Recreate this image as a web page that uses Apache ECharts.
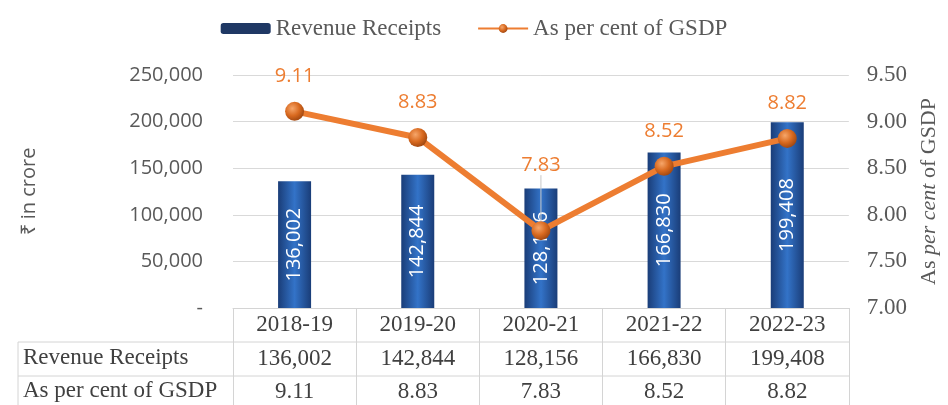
<!DOCTYPE html>
<html>
<head>
<meta charset="utf-8">
<script src="https://cdn.jsdelivr.net/npm/echarts@6/dist/echarts.min.js"></script>
<style>
  html, body { margin: 0; padding: 0; background: #fff; }
  #chart { width: 948px; height: 405px; }
</style>
</head>
<body>
<div id="chart"></div>
<script>
const years = ["2018-19", "2019-20", "2020-21", "2021-22", "2022-23"];
const revenueReceipts = [136002, 142844, 128156, 166830, 199408];
const gsdpShare = [9.11, 8.83, 7.83, 8.52, 8.82];

const SANS = "'Open Sans', sans-serif";
const SERIF = "'Liberation Serif', 'Times New Roman', serif";
const GRID = { left: 233, right: 98, top: 75, bottom: 97 };
const TABLE_LINE = "#d4d4d4";

const fmtInt = (v) => v.toLocaleString("en-US");
const fmt2 = (v) => v.toFixed(2);

const chart = echarts.init(document.getElementById("chart"));

const barColor = new echarts.graphic.LinearGradient(0, 0, 1, 0, [
  { offset: 0, color: "#1a3d78" },
  { offset: 0.5, color: "#3373c8" },
  { offset: 1, color: "#1a3d78" },
]);

const dotColor = new echarts.graphic.RadialGradient(0.38, 0.35, 0.7, [
  { offset: 0, color: "#f6a66a" },
  { offset: 0.55, color: "#d8691f" },
  { offset: 1, color: "#9c4510" },
]);

// the 2020-21 label sits higher with a leader line
const lineData = gsdpShare.map((v, i) =>
  i === 2 ? { value: v, labelLine: { show: true } } : v
);

const tableAxis = (values, margin) => ({
  type: "category",
  data: values,
  gridIndex: 0,
  position: "bottom",
  axisLine: { show: false },
  axisTick: { show: false },
  axisLabel: {
    interval: 0,
    margin: margin,
    verticalAlign: "middle",
    fontFamily: SERIF,
    fontSize: 23,
    color: "#404040",
  },
});

const h = 405;
const tableTop = h - GRID.bottom;

const option = {
  animation: false,
  backgroundColor: "#fff",
  legend: {
    top: 12,
    left: "center",
    itemWidth: 50,
    itemHeight: 11,
    itemGap: 36,
    textStyle: { fontFamily: SERIF, fontSize: 23, color: "#595959" },
    data: [
      { name: "Revenue Receipts", itemStyle: { color: "#1f3864" } },
      { name: "As per cent of GSDP" },
    ],
  },
  grid: GRID,
  xAxis: [
    {
      type: "category",
      data: years,
      axisLine: { show: true, lineStyle: { color: TABLE_LINE } },
      axisTick: { show: true, length: GRID.bottom, lineStyle: { color: TABLE_LINE } },
      axisLabel: {
        interval: 0,
        margin: 17,
        verticalAlign: "middle",
        fontFamily: SERIF,
        fontSize: 23,
        color: "#404040",
      },
    },
    tableAxis(revenueReceipts.map(fmtInt), 51),
    tableAxis(gsdpShare.map(fmt2), 84),
  ],
  yAxis: [
    {
      type: "value",
      min: 0,
      max: 250000,
      interval: 50000,
      name: "₹ in crore",
      nameLocation: "middle",
      nameGap: 194,
      nameTextStyle: { fontFamily: SANS, fontSize: 20, color: "#595959" },
      axisLine: { show: false },
      axisTick: { show: false },
      axisLabel: {
        margin: 30,
        fontFamily: SANS,
        fontSize: 20,
        color: "#595959",
        formatter: (v) => (v === 0 ? "-" : fmtInt(v)),
      },
      splitLine: { lineStyle: { color: "#d9d9d9" } },
    },
    {
      type: "value",
      min: 7,
      max: 9.5,
      interval: 0.5,
      position: "right",
      name: "{a|As }{b|per cent}{a| of GSDP}",
      nameLocation: "middle",
      nameGap: 68,
      nameTextStyle: {
        rich: {
          a: { fontFamily: SERIF, fontSize: 22, color: "#595959" },
          b: { fontFamily: SERIF, fontSize: 22, color: "#595959", fontStyle: "italic" },
        },
      },
      axisLine: { show: false },
      axisTick: { show: false },
      axisLabel: {
        margin: 18,
        fontFamily: SERIF,
        fontSize: 23,
        color: "#595959",
        formatter: fmt2,
      },
      splitLine: { show: false },
    },
  ],
  series: [
    {
      name: "Revenue Receipts",
      type: "bar",
      xAxisIndex: 0,
      yAxisIndex: 0,
      barWidth: 33,
      data: revenueReceipts,
      itemStyle: { color: barColor },
      label: {
        show: true,
        position: "inside",
        rotate: 90,
        fontFamily: SANS,
        fontSize: 20,
        color: "#ffffff",
        formatter: (p) => fmtInt(p.value),
      },
    },
    {
      name: "As per cent of GSDP",
      type: "line",
      xAxisIndex: 0,
      yAxisIndex: 1,
      data: lineData,
      symbol: "circle",
      symbolSize: 19,
      lineStyle: { color: "#ed7d31", width: 6 },
      itemStyle: { color: dotColor },
      label: {
        show: true,
        position: "top",
        distance: 16,
        fontFamily: SANS,
        fontSize: 20,
        color: "#ed7d31",
        formatter: (p) => fmt2(p.value),
      },
      labelLine: { show: false, lineStyle: { color: "#c8c8c8", width: 1 } },
      labelLayout: (p) => (p.dataIndex === 2 ? { dy: -30 } : {}),
      z: 5,
    },
  ],
  graphic: [
    // table row borders and row headers
    {
      type: "line",
      shape: { x1: 18, y1: tableTop + 34, x2: 948 - GRID.right, y2: tableTop + 34 },
      style: { stroke: TABLE_LINE, lineWidth: 1 },
    },
    {
      type: "line",
      shape: { x1: 18, y1: tableTop + 68, x2: 948 - GRID.right, y2: tableTop + 68 },
      style: { stroke: TABLE_LINE, lineWidth: 1 },
    },
    {
      type: "line",
      shape: { x1: 18, y1: tableTop + 34, x2: 18, y2: h },
      style: { stroke: TABLE_LINE, lineWidth: 1 },
    },
    {
      type: "text",
      left: 23,
      top: tableTop + 51 - 13,
      style: { text: "Revenue Receipts", font: "23px " + SERIF, fill: "#404040" },
    },
    {
      type: "text",
      left: 23,
      top: tableTop + 84 - 13,
      style: { text: "As per cent of GSDP", font: "23px " + SERIF, fill: "#404040" },
    },
  ],
};

chart.setOption(option);
</script>
</body>
</html>
